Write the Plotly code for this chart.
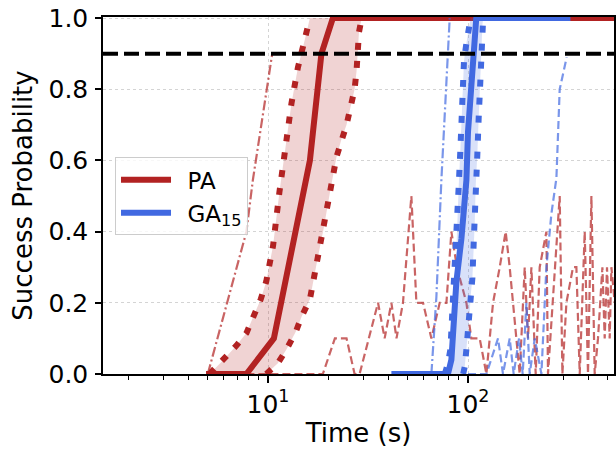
import plotly.graph_objects as go

# ---------------- data ----------------
THRESHOLD = 0.9

pa_med_t = [4.9, 7.8, 10.7, 16.2, 18.5, 21.1, 560]
pa_med_p = [0.0, 0.0, 0.1, 0.6, 0.9, 1.0, 1.0]

pa_lo_t = [5.1, 6.0, 6.95, 7.8, 8.5, 9.2, 9.8, 10.6, 11.4, 12.4, 13.1, 14.1, 14.7, 15.6, 16.2]
pa_lo_p = [0.0, 0.04, 0.08, 0.115, 0.165, 0.21, 0.26, 0.36, 0.51, 0.66, 0.76, 0.86, 0.905, 0.96, 1.0]

pa_hi_t = [9.8, 11.2, 12.4, 13.8, 14.7, 16.2, 17.5, 19.0, 20.4, 22.0, 23.3, 24.7, 27.1, 27.7, 28.5, 29.4]
pa_hi_p = [0.0, 0.03, 0.07, 0.12, 0.16, 0.21, 0.31, 0.41, 0.51, 0.61, 0.66, 0.70, 0.80, 0.85, 0.96, 1.0]

pa_best_t = [5.0, 7.8, 8.4, 10.5]
pa_best_p = [0.0, 0.4, 0.545, 0.9]

pa_run_t = [7.8, 18.8, 21.6, 24.7, 27.1, 28.7, 35.5, 38.3, 41.4, 43.9, 47.3, 52.1, 55.2, 59.6,
            65.6, 72.2, 78.0, 82.6, 88.0, 98.2, 103.9, 114.4, 123.6, 133.4, 144.1, 154.3,
            161.6, 167.9, 181.3, 192.1, 199.5, 207.5, 218.0, 228.3, 246.6, 251.2, 265.2,
            287.4, 296.5, 310.5, 335.0, 348.3, 361.9, 383.3, 398.1, 414.0, 430.0, 446.7,
            469.9, 482.5, 495.5, 511.0, 521.2, 541.6]
pa_run_p = [0.0, 0.0, 0.1, 0.1, 0.0, 0.0, 0.2, 0.1, 0.2, 0.1, 0.2, 0.5, 0.2, 0.2,
            0.1, 0.2, 0.2, 0.4, 0.3, 0.2, 0.1, 0.1, 0.0, 0.2, 0.3, 0.4,
            0.3, 0.2, 0.0, 0.3, 0.1, 0.3, 0.0, 0.3, 0.4, 0.0, 0.2,
            0.5, 0.0, 0.2, 0.3, 0.3, 0.0, 0.4, 0.0, 0.5, 0.0, 0.1,
            0.3, 0.1, 0.3, 0.1, 0.3, 0.2]

ga_med_t = [41.4, 79.4, 82.6, 87.5, 92.7, 98.2, 100.0, 103.9, 108.0, 110.0, 325.0]
ga_med_p = [0.0, 0.0, 0.04, 0.26, 0.38, 0.545, 0.68, 0.82, 0.94, 1.0, 1.0]

ga_lo_t = [76.5, 79.4, 81.7, 82.6, 84.1, 86.5, 88.1, 89.9, 91.6, 93.3, 94.4, 95.5, 98.2, 101.2, 103.1]
ga_lo_p = [0.0, 0.03, 0.07, 0.12, 0.17, 0.28, 0.43, 0.53, 0.63, 0.73, 0.83, 0.88, 0.93, 0.98, 1.0]

ga_hi_t = [94.6, 96.3, 98.2, 100.0, 102.0, 103.1, 105.2, 106.8, 108.0, 109.3, 111.4, 113.1, 114.8, 117.1, 118.0, 119.1]
ga_hi_p = [0.0, 0.02, 0.07, 0.12, 0.17, 0.22, 0.27, 0.37, 0.42, 0.53, 0.62, 0.72, 0.83, 0.93, 0.98, 1.0]

ga_best_t = [65.6, 69.5, 73.6, 80.4, 81.0]
ga_best_p = [0.0, 0.217, 0.545, 0.99, 1.0]

ga_run_t = [100.0, 114.4, 123.6, 141.3, 149.6, 161.6, 169.2, 179.9, 187.7, 195.9, 203.5,
            215.6, 232.8, 246.6, 261.2, 276.7, 287.4, 311.5]
ga_run_p = [0.0, 0.0, 0.0, 0.1, 0.0, 0.1, 0.0, 0.1, 0.0, 0.2, 0.0,
            0.1, 0.0, 0.3, 0.45, 0.55, 0.8, 0.89]

series_names = ["PA", "GA<sub>15</sub>"]
x_major_vals = [10, 100]
x_major_text = ["10<sup>1</sup>", "10<sup>2</sup>"]
x_minor_vals = [2, 3, 4, 5, 6, 7, 8, 9, 20, 30, 40, 50, 60, 70, 80, 90, 200, 300, 400, 500]
y_ticks = [0.0, 0.2, 0.4, 0.6, 0.8, 1.0]

# ---------------- styles ----------------
RED = "#b22222"
BLUE = "#4169e1"
RED_FILL = "rgba(178,34,34,0.2)"
BLUE_FILL = "rgba(65,105,225,0.2)"
RED_THIN = "rgba(178,34,34,0.7)"
BLUE_THIN = "rgba(65,105,225,0.7)"
DOT = "7px,11px"
FONT = "DejaVu Sans"
LEGEND_PAD = "\u2002"

fig = go.Figure()


def add_group(lo_t, lo_p, hi_t, hi_p, best_t, best_p, run_t, run_p, med_t, med_p,
              col, fill, thin, name):
    fig.add_trace(go.Scatter(x=lo_t + hi_t[::-1], y=lo_p + hi_p[::-1], fill="toself",
                             fillcolor=fill, line=dict(width=0), mode="lines",
                             showlegend=False, hoverinfo="skip"))
    fig.add_trace(go.Scatter(x=best_t, y=best_p, mode="lines", showlegend=False,
                             line=dict(color=thin, width=2.2, dash="10px,3px,2px,3px")))
    fig.add_trace(go.Scatter(x=run_t, y=run_p, mode="lines", showlegend=False,
                             line=dict(color=thin, width=2.2, dash="8px,4px")))
    for tt, pp in ((lo_t, lo_p), (hi_t, hi_p)):
        fig.add_trace(go.Scatter(x=tt, y=pp, mode="lines", showlegend=False,
                                 line=dict(color=col, width=6, dash=DOT)))
    fig.add_trace(go.Scatter(x=med_t, y=med_p, mode="lines", name=LEGEND_PAD + name,
                             line=dict(color=col, width=6)))


add_group(pa_lo_t, pa_lo_p, pa_hi_t, pa_hi_p, pa_best_t, pa_best_p, pa_run_t, pa_run_p,
          pa_med_t, pa_med_p, RED, RED_FILL, RED_THIN, series_names[0])
add_group(ga_lo_t, ga_lo_p, ga_hi_t, ga_hi_p, ga_best_t, ga_best_p, ga_run_t, ga_run_p,
          ga_med_t, ga_med_p, BLUE, BLUE_FILL, BLUE_THIN, series_names[1])

fig.add_shape(type="line", xref="paper", x0=0, x1=1, yref="y", y0=THRESHOLD, y1=THRESHOLD,
              line=dict(color="black", width=4, dash="15px,6px"), layer="above")

fig.update_layout(
    width=616, height=451,
    margin=dict(l=103, r=2, t=17, b=77, autoexpand=False),
    paper_bgcolor="white", plot_bgcolor="white",
    font=dict(family=FONT, size=25, color="black"),
    showlegend=True,
    legend=dict(x=0.0235, y=0.607, xanchor="left", yanchor="top",
                bgcolor="rgba(255,255,255,0.8)", bordercolor="#cccccc", borderwidth=1,
                font=dict(size=23), tracegroupgap=0, itemwidth=50),
    xaxis=dict(type="log", range=[0.175, 2.73], automargin=False,
               tickmode="array", tickvals=x_major_vals, ticktext=x_major_text,
               ticks="outside", ticklen=7, tickwidth=1.5, tickcolor="black",
               ticklabelstandoff=0, ticklabeloverflow="allow",
               showline=True, linecolor="black", linewidth=1.5, mirror=True,
               showgrid=True, gridcolor="#d4d4d4", griddash="dot", gridwidth=1,
               zeroline=False,
               tickfont=dict(size=25),
               minor=dict(tickmode="array", tickvals=x_minor_vals, ticks="outside",
                          ticklen=4, tickwidth=1.2, tickcolor="black", showgrid=False),
               title=dict(text="Time (s)", font=dict(size=26), standoff=6)),
    yaxis=dict(range=[0, 1.003], automargin=False, tickmode="array", tickvals=y_ticks,
               ticktext=[f"{v:.1f}" for v in y_ticks],
               ticks="outside", ticklen=6, tickwidth=1.5, tickcolor="black",
               ticklabelstandoff=2, ticklabeloverflow="allow",
               showline=True, linecolor="black", linewidth=1.5, mirror=True,
               showgrid=True, gridcolor="#d4d4d4", griddash="dot", gridwidth=1,
               zeroline=False, tickfont=dict(size=25),
               title=dict(text="Success Probability", font=dict(size=26), standoff=8)),
)

# remove the browser's default 8px body margin so the figure fills the window exactly
fig.write_html("out.html", config={"displayModeBar": False},
               post_script="document.body.style.margin='0px';")
